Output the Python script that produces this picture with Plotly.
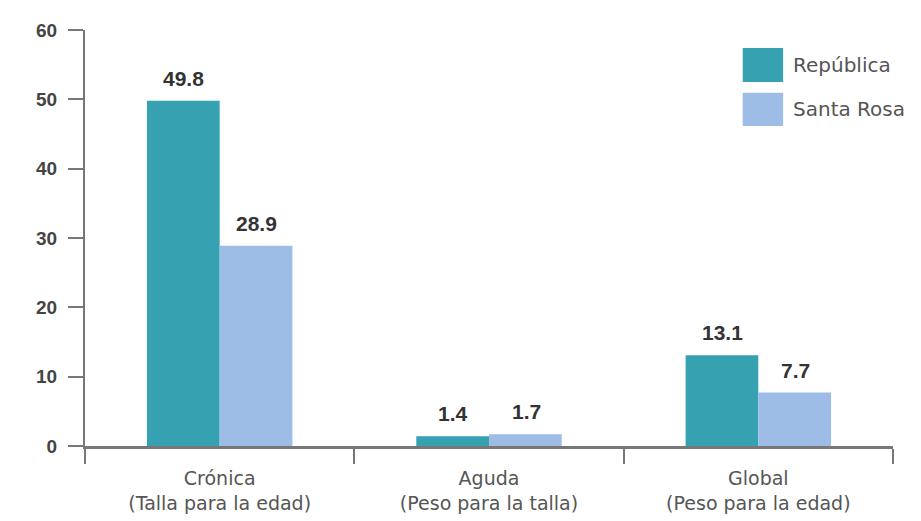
import plotly.graph_objects as go

categories = ["Crónica<br>(Talla para la edad)", "Aguda<br>(Peso para la talla)", "Global<br>(Peso para la edad)"]
series_names = ["República", "Santa Rosa"]
republica = [49.8, 1.4, 13.1]
santa_rosa = [28.9, 1.7, 7.7]
y_ticks = [0, 10, 20, 30, 40, 50, 60]

colors = ["#35A1B1", "#9DBDE7"]

fig = go.Figure()
for name, vals, col in zip(series_names, [republica, santa_rosa], colors):
    fig.add_trace(go.Bar(x=categories, y=vals, name=name, marker_color=col,
                         marker_line_width=0, showlegend=False))

# value labels
ann = []
for vals, shift in [(republica, -36), (santa_rosa, 37)]:
    for c, v in zip(categories, vals):
        ann.append(dict(x=c, y=v, xref="x", yref="y", text=f"<b>{v:.1f}</b>", showarrow=False,
                        xshift=shift, yshift=9, yanchor="bottom",
                        font=dict(family="Liberation Sans, Arial", size=21, color="#333333")))
# custom legend
shapes = []
leg_y = [(0.957, 0.875), (0.849, 0.769)]
for (y1, y0), col, name in zip(leg_y, colors, series_names):
    shapes.append(dict(type="rect", xref="paper", yref="paper", x0=0.814, x1=0.864,
                       y0=y0, y1=y1, fillcolor=col, line_width=0))
    ann.append(dict(x=0.874, y=(y0 + y1) / 2, xref="paper", yref="paper", text=name,
                    showarrow=False, xanchor="left", yanchor="middle",
                    font=dict(family="DejaVu Sans", size=20, color="#555555")))

fig.update_layout(
    width=913, height=513,
    margin=dict(l=77, r=28, t=22, b=75),
    paper_bgcolor="white", plot_bgcolor="white",
    barmode="group", bargap=0.46, bargroupgap=0,
    annotations=ann, shapes=shapes,
    font=dict(family="Liberation Sans, Arial", color="#555555"),
)
fig.update_yaxes(range=[0, 60], tickvals=y_ticks, showgrid=False, zeroline=False,
                 showline=True, linecolor="#777777", linewidth=2,
                 ticks="outside", ticklen=15, tickcolor="#777777", tickwidth=2,
                 tickfont=dict(size=19, color="#444444", family="Liberation Sans, Arial", weight="bold"),
                 ticklabelstandoff=7, automargin=False)
fig.update_xaxes(showgrid=False, showline=True, linecolor="#777777", linewidth=3,
                 ticks="outside", tickson="boundaries", ticklen=15, tickcolor="#777777", tickwidth=2,
                 tickfont=dict(size=19, color="#555555", family="DejaVu Sans"),
                 ticklabelstandoff=13, automargin=False,
                 range=[-0.5, 2.5])

fig.write_html("out.html")
